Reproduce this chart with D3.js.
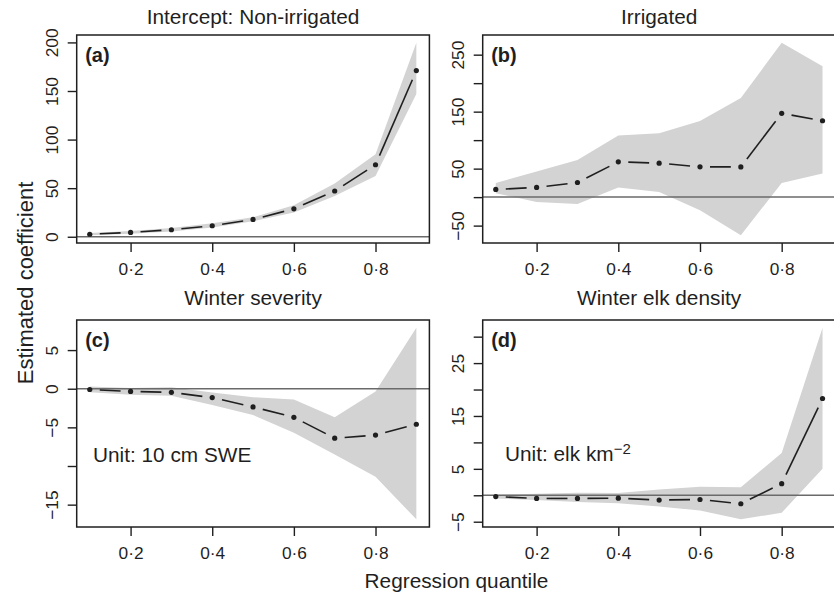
<!DOCTYPE html>
<html>
<head>
<meta charset="utf-8">
<script src="https://cdn.jsdelivr.net/npm/d3@7"></script>
<style>
  body { margin: 0; background: #fff; }
  svg { font-family: "Liberation Sans", Arial, sans-serif; }
</style>
</head>
<body>
<svg id="chart"></svg>
<script>
// regression quantiles (x)
var quantiles = [0.1, 0.2, 0.3, 0.4, 0.5, 0.6, 0.7, 0.8, 0.9];
var xTicks = [0.2, 0.4, 0.6, 0.8];

// (a) Intercept: Non-irrigated
var interceptEst = [2.6, 4.5, 7.2, 11.3, 17.8, 28.7, 47.1, 74.1, 171];
var interceptLo  = [1.5, 3, 5.5, 9.5, 16, 25, 42, 62.5, 146.8];
var interceptHi  = [3.8, 6, 9, 14, 20, 32.5, 54.7, 85, 199.7];
var interceptTicks  = [0, 50, 100, 150, 200];
var interceptLabels = [0, 50, 100, 150, 200];

// (b) Irrigated
var irrigatedEst = [13.5, 17, 25.7, 61.9, 59.6, 53.1, 53, 147, 134];
var irrigatedLo  = [7, -8.6, -12, 17, 9, -23, -67, 25, 41.5];
var irrigatedHi  = [25, 45, 65, 108, 112, 133.5, 174, 271, 229.6];
var irrigatedTicks  = [-50, 0, 50, 100, 150, 200, 250];
var irrigatedLabels = [-50, 50, 150, 250];

// (c) Winter severity
var severityEst = [-0.1, -0.35, -0.47, -1.15, -2.35, -3.7, -6.4, -6.0, -4.6];
var severityLo  = [-0.47, -0.77, -0.9, -2.1, -3.4, -5.7, -8.5, -11.4, -16.9];
var severityHi  = [0.3, 0.1, 0.2, -0.5, -1.1, -1.4, -3.7, -0.35, 7.9];
var severityTicks  = [-15, -10, -5, 0, 5];
var severityLabels = [-15, -5, 0, 5];

// (d) Winter elk density
var densityEst = [-0.25, -0.6, -0.6, -0.55, -0.9, -0.8, -1.6, 2.2, 18.3];
var densityLo  = [-0.6, -0.9, -1.25, -1.5, -2.1, -2.9, -4.55, -3.3, 5.0];
var densityHi  = [0.1, 0.3, 0.5, 0.45, 1.1, 1.6, 1.5, 8, 31.7];
var densityTicks  = [-5, 0, 5, 10, 15, 20, 25, 30];
var densityLabels = [-5, 5, 15, 25];

var width = 834, height = 595;
var ink = "#1f1f1f";
var tickFont = 17.3, titleFont = 20.8;

var svg = d3.select("#chart")
    .attr("width", width)
    .attr("height", height);

var panels = [
    { title: "Intercept: Non-irrigated", tag: "(a)", est: interceptEst, lo: interceptLo, hi: interceptHi,
      ticks: interceptTicks, labels: interceptLabels, left: 76.7, right: 429.4, top: 35, bottom: 243, titleY: 24 },
    { title: "Irrigated", tag: "(b)", est: irrigatedEst, lo: irrigatedLo, hi: irrigatedHi,
      ticks: irrigatedTicks, labels: irrigatedLabels, left: 482.7, right: 835.6, top: 35, bottom: 243, titleY: 24 },
    { title: "Winter severity", tag: "(c)", est: severityEst, lo: severityLo, hi: severityHi,
      ticks: severityTicks, labels: severityLabels, left: 76.7, right: 429.4, top: 320, bottom: 527, titleY: 305,
      note: { x: 0.108, y: -9.45, text: "Unit: 10 cm SWE" } },
    { title: "Winter elk density", tag: "(d)", est: densityEst, lo: densityLo, hi: densityHi,
      ticks: densityTicks, labels: densityLabels, left: 482.7, right: 835.6, top: 320, bottom: 527, titleY: 305,
      note: { x: 0.1226, y: 6.4, text: "Unit: elk km", sup: "\u22122" } }
];

// R-style axis range: data range padded by 4% each side
function padded(vals) {
    var ext = d3.extent(vals);
    var pad = (ext[1] - ext[0]) * 0.04;
    return [ext[0] - pad, ext[1] + pad];
}

function fmtNum(v) {
    return v < 0 ? "\u2212" + (-v) : String(v);
}

panels.forEach(function(p) {
    var x = d3.scaleLinear().domain(padded(quantiles)).range([p.left, p.right]);
    var y = d3.scaleLinear().domain(padded(p.lo.concat(p.hi))).range([p.bottom, p.top]);

    var g = svg.append("g").attr("class", "panel");

    // confidence band
    var area = d3.area()
        .x(function(d, i) { return x(quantiles[i]); })
        .y0(function(d, i) { return y(p.lo[i]); })
        .y1(function(d, i) { return y(p.hi[i]); });
    g.append("path")
        .attr("d", area(p.est))
        .attr("fill", "#d3d3d3");

    // zero reference line
    g.append("line")
        .attr("x1", p.left).attr("x2", p.right)
        .attr("y1", y(0)).attr("y2", y(0))
        .attr("stroke", "#6a6a6a")
        .attr("stroke-width", 1.5);

    // estimate: points joined by segments with gaps (type = "b")
    var pts = p.est.map(function(v, i) { return [x(quantiles[i]), y(v)]; });
    var gap = 10;
    for (var i = 0; i < pts.length - 1; i++) {
        var dx = pts[i + 1][0] - pts[i][0], dy = pts[i + 1][1] - pts[i][1];
        var len = Math.sqrt(dx * dx + dy * dy);
        if (len <= 2 * gap) continue;
        var ux = dx / len, uy = dy / len;
        g.append("line")
            .attr("x1", pts[i][0] + ux * gap).attr("y1", pts[i][1] + uy * gap)
            .attr("x2", pts[i + 1][0] - ux * gap).attr("y2", pts[i + 1][1] - uy * gap)
            .attr("stroke", ink)
            .attr("stroke-width", 1.6);
    }
    g.selectAll("circle.pt")
        .data(pts).enter()
        .append("circle")
        .attr("class", "pt")
        .attr("cx", function(d) { return d[0]; })
        .attr("cy", function(d) { return d[1]; })
        .attr("r", 2.6)
        .attr("fill", ink);

    // box
    g.append("rect")
        .attr("x", p.left).attr("y", p.top)
        .attr("width", p.right - p.left).attr("height", p.bottom - p.top)
        .attr("fill", "none")
        .attr("stroke", ink)
        .attr("stroke-width", 1.5);

    // x axis
    var gx = g.append("g")
        .attr("transform", "translate(0," + p.bottom + ")")
        .call(d3.axisBottom(x)
            .tickValues(xTicks)
            .tickSize(9)
            .tickFormat(function(d) { return d3.format(".1f")(d).replace(".", "\u00b7"); }));
    gx.select(".domain").remove();
    gx.selectAll(".tick line").attr("stroke", ink).attr("stroke-width", 1.4);
    gx.selectAll(".tick text")
        .attr("y", 32).attr("dy", null)
        .attr("fill", ink)
        .style("font-size", tickFont + "px");

    // y axis, labels parallel to the axis
    var gy = g.append("g")
        .attr("transform", "translate(" + p.left + ",0)")
        .call(d3.axisLeft(y)
            .tickValues(p.ticks)
            .tickSize(9)
            .tickFormat(function(d) { return p.labels.indexOf(d) >= 0 ? fmtNum(d) : ""; }));
    gy.select(".domain").remove();
    gy.selectAll(".tick line").attr("stroke", ink).attr("stroke-width", 1.4);
    gy.selectAll(".tick text")
        .attr("x", null).attr("dy", null)
        .attr("transform", "translate(-19,0) rotate(-90)")
        .attr("text-anchor", "middle")
        .attr("fill", ink)
        .style("font-size", tickFont + "px");

    // panel title
    g.append("text")
        .attr("x", (p.left + p.right) / 2)
        .attr("y", p.titleY)
        .attr("text-anchor", "middle")
        .attr("fill", ink)
        .style("font-size", titleFont + "px")
        .text(p.title);

    // panel tag
    g.append("text")
        .attr("x", p.left + 8.5)
        .attr("y", p.top + 27)
        .attr("fill", ink)
        .style("font-size", "20px")
        .style("font-weight", "bold")
        .text(p.tag);

    // unit note
    if (p.note) {
        var t = g.append("text")
            .attr("x", x(p.note.x))
            .attr("y", y(p.note.y))
            .attr("fill", ink)
            .style("font-size", titleFont + "px")
            .text(p.note.text);
        if (p.note.sup) {
            t.append("tspan")
                .attr("dy", -7)
                .style("font-size", "15px")
                .text(p.note.sup);
        }
    }
});

// shared axis titles
svg.append("text")
    .attr("transform", "translate(33,283) rotate(-90)")
    .attr("text-anchor", "middle")
    .attr("fill", ink)
    .style("font-size", "22px")
    .text("Estimated coefficient");

svg.append("text")
    .attr("x", 456.5)
    .attr("y", 588)
    .attr("text-anchor", "middle")
    .attr("fill", ink)
    .style("font-size", titleFont + "px")
    .text("Regression quantile");
</script>
</body>
</html>
